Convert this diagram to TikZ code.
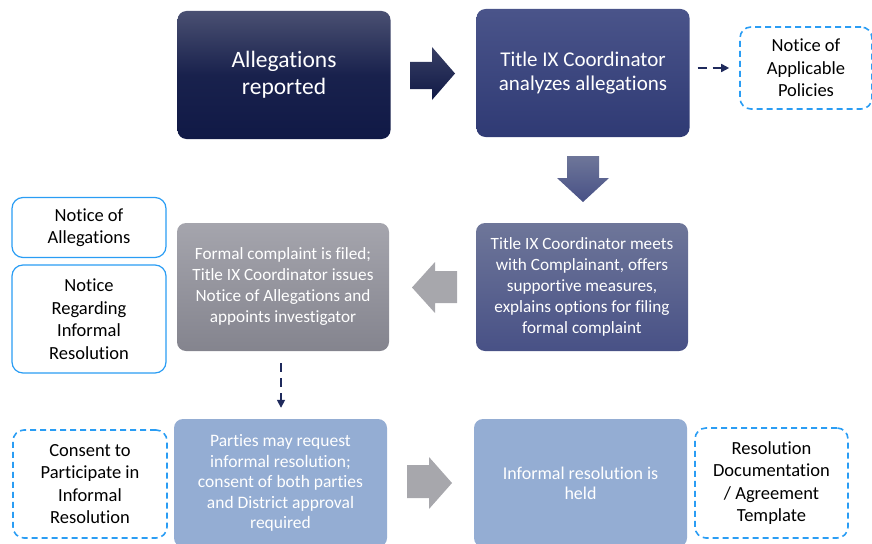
\documentclass[tikz,border=0pt]{standalone}
\usepackage{fontspec}
\setmainfont{Carlito}[Ligatures=NoCommon]
\usetikzlibrary{arrows.meta,calc}
\definecolor{navyA}{HTML}{101946}
\definecolor{navyAt}{HTML}{4A5072}
\definecolor{navyBt}{HTML}{4A548A}
\definecolor{navyBb}{HTML}{2F3A74}
\definecolor{navyCt}{HTML}{6E7699}
\definecolor{navyCb}{HTML}{485186}
\definecolor{grayDt}{HTML}{A5A5AD}
\definecolor{grayDb}{HTML}{84848E}
\definecolor{lightblue}{HTML}{94ADD3}
\definecolor{edgeblue}{HTML}{2A9DF4}
\definecolor{arrowgray}{HTML}{A7A7AC}
\definecolor{dashnavy}{HTML}{1F2A5C}
\tikzset{
  x=1pt,y=-1pt,
  mainbox/.style={rectangle,rounded corners=9pt,minimum width=213pt,minimum height=128pt,
    align=center,text=white,inner sep=2pt},
  sidebox/.style={rectangle,rounded corners=11pt,minimum width=154pt,draw=edgeblue,line width=1.2pt,
    align=center,text=black,font=\fontsize{18.5}{22.5}\selectfont,fill=white,inner sep=1pt},
  dashbox/.style={sidebox,dash pattern=on 6pt off 4pt,line width=1.6pt},
  dashlink/.style={draw=dashnavy,line width=1.6pt,dash pattern=on 9pt off 6pt,
    -{Triangle[length=8pt,width=8pt]}},
}
\begin{document}
\begin{tikzpicture}
\useasboundingbox (0,0) rectangle (872,543);
\clip (0,0) rectangle (872,543);
% main boxes
\node[mainbox,top color=navyAt,bottom color=navyA,middle color=navyA!85!navyAt,font=\fontsize{23.5}{27}\selectfont] (A) at (284,75) {Allegations\\reported};
\node[mainbox,top color=navyBt,bottom color=navyBb,font=\fontsize{21}{24}\selectfont] (B) at (583,73) {Title IX Coordinator\\analyzes allegations};
\node[mainbox,minimum width=212pt,top color=navyCt,bottom color=navyCb,font=\fontsize{17.2}{21}\selectfont] (C) at (582,287) {Title IX Coordinator meets\\with Complainant, offers\\supportive measures,\\explains options for filing\\formal complaint};
\node[mainbox,minimum width=212pt,top color=grayDt,bottom color=grayDb,font=\fontsize{17.2}{21}\selectfont] (D) at (283,287) {Formal complaint is filed;\\Title IX Coordinator issues\\Notice of Allegations and\\appoints investigator};
\node[mainbox,fill=lightblue,font=\fontsize{17.5}{20.5}\selectfont] (E) at (280.5,483) {Parties may request\\informal resolution;\\consent of both parties\\and District approval\\required};
\node[mainbox,fill=lightblue,font=\fontsize{18}{20}\selectfont] (F) at (580.5,483) {Informal resolution is\\held};
% side boxes
\node[dashbox,minimum width=132pt,minimum height=82pt] (N1) at (806,68) {Notice of\\Applicable\\Policies};
\node[sidebox,minimum height=60pt] (N2) at (89,227.5) {Notice of\\Allegations};
\node[sidebox,minimum height=108pt] (N3) at (89,319) {Notice\\Regarding\\Informal\\Resolution};
\node[dashbox,minimum height=108pt] (N4) at (90,484) {Consent to\\Participate in\\Informal\\Resolution};
\node[dashbox,minimum width=153pt,minimum height=110pt] (N5) at (771.5,483) {Resolution\\Documentation\\/ Agreement\\Template};
% block arrows
\shade[top color=navyAt!70!navyA,bottom color=navyA] (410,62) -- (432,62) -- (432,47) -- (455,73.5) -- (432,100) -- (432,89) -- (410,89) -- cycle;
\shade[top color=navyCt,bottom color=navyCb] (567,156) -- (599,156) -- (599,178) -- (609,178) -- (583,202) -- (557,178) -- (567,178) -- cycle;
\fill[arrowgray] (412,287.5) -- (435,262) -- (435,271) -- (457,271) -- (457,303) -- (435,303) -- (435,313) -- cycle;
\fill[arrowgray] (407,465) -- (429,465) -- (429,457) -- (452,483) -- (429,509) -- (429,498) -- (407,498) -- cycle;
% dashed links
\draw[dashlink,shorten <=8pt,shorten >=10pt] (B.east |- N1.west) -- (N1.west);
\draw[dashlink,shorten <=12pt,shorten >=11pt] ($(D.south)+(-2,0)$) -- ($(E.north)+(0.5,0)$);
\end{tikzpicture}
\end{document}
